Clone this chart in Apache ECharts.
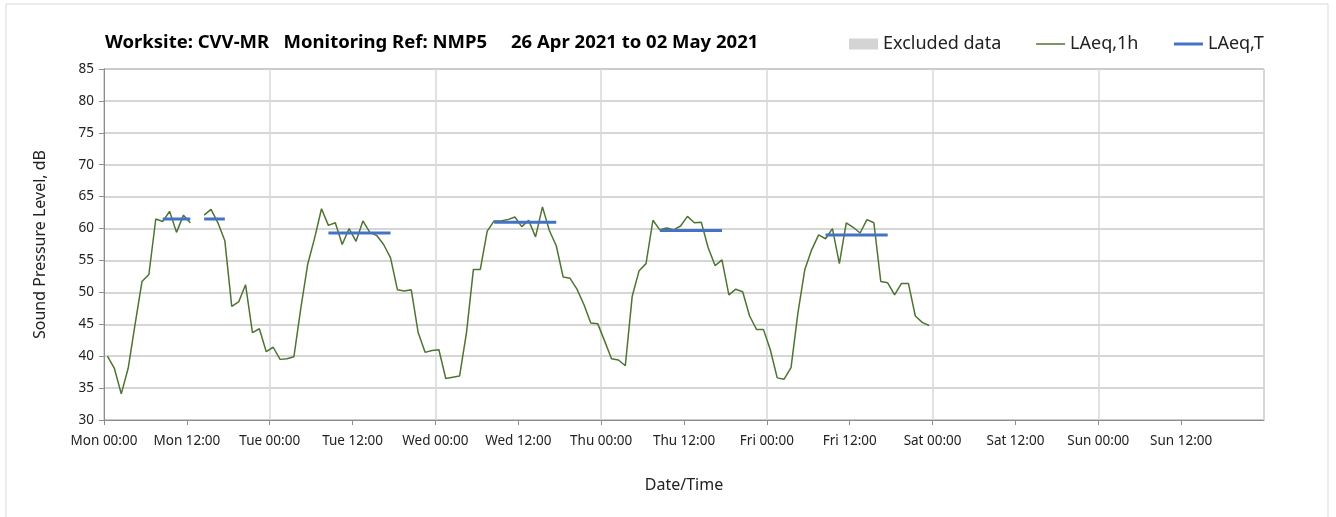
<!DOCTYPE html>
<html>
<head>
<meta charset="utf-8">
<script src="https://cdn.jsdelivr.net/npm/echarts@6/dist/echarts.min.js"></script>
<style>
  html, body { margin: 0; padding: 0; background: #fff; }
  #chart { width: 1336px; height: 517px; }
</style>
</head>
<body>
<div id="chart"></div>
<script>
// hourly LAeq,1h per day (index = hour of day), null = no data
const monday    = [40.0, 38.1, 34.1, 38.1, 45.0, 51.7, 52.8, 61.5, 61.1, 62.7, 59.4, 62.1, 60.9, null, 62.1, 63.0, 60.9, 58.1, 47.8, 48.5, 51.2, 43.7, 44.3, 40.7];
const tuesday   = [41.4, 39.5, 39.6, 39.9, 47.5, 54.4, 58.5, 63.1, 60.5, 60.9, 57.5, 60.0, 58.0, 61.2, 59.4, 58.9, 57.5, 55.4, 50.4, 50.2, 50.4, 43.7, 40.6, 40.9];
const wednesday = [41.0, 36.5, 36.7, 36.9, 43.7, 53.6, 53.6, 59.6, 61.2, 61.2, 61.4, 61.8, 60.3, 61.3, 58.7, 63.4, 59.7, 57.3, 52.4, 52.2, 50.5, 48.1, 45.2, 45.1];
const thursday  = [42.4, 39.6, 39.4, 38.5, 49.4, 53.4, 54.5, 61.3, 59.8, 60.1, 59.8, 60.4, 61.9, 60.9, 61.0, 57.0, 54.2, 55.1, 49.6, 50.5, 50.1, 46.3, 44.2, 44.2];
const friday    = [41.0, 36.6, 36.4, 38.2, 46.8, 53.6, 56.7, 59.0, 58.4, 60.0, 54.5, 60.9, 60.2, 59.3, 61.4, 60.9, 51.7, 51.5, 49.6, 51.4, 51.4, 46.3, 45.3, 44.8];
const days = [monday, tuesday, wednesday, thursday, friday];

// LAeq,T daytime level per day (08:00-18:00)
const laeqT = [61.5, 59.3, 61.0, 59.7, 59.0];
const dayStart = 8;
const dayEnd = 17;

// x tick labels every 12 h
const xTickLabels = [
  "Mon 00:00", "Mon 12:00", "Tue 00:00", "Tue 12:00", "Wed 00:00", "Wed 12:00",
  "Thu 00:00", "Thu 12:00", "Fri 00:00", "Fri 12:00", "Sat 00:00", "Sat 12:00",
  "Sun 00:00", "Sun 12:00",
];

const font = "'Noto Sans', 'Open Sans', sans-serif";

// build [hour, value] pairs, points sit at the middle of each hour
const hourly = [];
days.forEach((vals, d) => {
  vals.forEach((v, h) => {
    hourly.push([d * 24 + h + 0.5, v]);
  });
});

const periodT = [];
days.forEach((vals, d) => {
  for (let h = dayStart; h <= dayEnd; h++) {
    periodT.push([d * 24 + h + 0.5, vals[h] == null ? null : laeqT[d]]);
  }
  periodT.push([d * 24 + dayEnd + 1, null]);
});

const chart = echarts.init(document.getElementById("chart"));

const option = {
  animation: false,
  backgroundColor: "#fff",
  textStyle: { fontFamily: font },
  graphic: [
    {
      type: "rect",
      shape: { x: 6, y: 4, width: 1322, height: 520 },
      style: { fill: "none", stroke: "#d9d9d9", lineWidth: 1 },
      silent: true,
    },
  ],
  title: {
    text: "Worksite: CVV-MR   Monitoring Ref: NMP5     26 Apr 2021 to 02 May 2021",
    left: 100,
    top: 28,
    textStyle: { fontFamily: font, fontSize: 18.5, fontWeight: "bold", color: "#000" },
  },
  legend: {
    left: 844,
    top: 30,
    itemGap: 34,
    itemWidth: 29,
    itemHeight: 11,
    textStyle: { fontFamily: font, fontSize: 18, color: "#222" },
    data: [
      { name: "Excluded data", icon: "rect" },
      { name: "LAeq,1h", itemStyle: { opacity: 0 }, lineStyle: { width: 1.5 } },
      { name: "LAeq,T", itemStyle: { opacity: 0 }, lineStyle: { width: 3 } },
    ],
  },
  grid: {
    left: 104,
    right: 72,
    top: 69,
    bottom: 97,
    show: true,
    borderColor: "#a6a6a6",
    borderWidth: 1,
  },
  xAxis: [
    {
      type: "value",
      min: 0,
      max: 168,
      interval: 12,
      name: "Date/Time",
      nameLocation: "middle",
      nameGap: 57,
      nameTextStyle: { fontFamily: font, fontSize: 16, color: "#222" },
      axisLine: { show: true, lineStyle: { color: "#8c8c8c" } },
      axisTick: { show: true, inside: false, length: 5, lineStyle: { color: "#8c8c8c" } },
      axisLabel: {
        fontFamily: font,
        fontSize: 13.5,
        color: "#222",
        margin: 14,
        showMaxLabel: false,
        formatter: (v) => xTickLabels[v / 12] || "",
      },
      splitLine: { show: false },
    },
    {
      type: "value",
      min: 0,
      max: 168,
      interval: 24,
      position: "bottom",
      axisLine: { show: false },
      axisTick: { show: false },
      axisLabel: { show: false },
      splitLine: { show: true, lineStyle: { color: "#d9d9d9", width: 1.5 } },
    },
  ],
  yAxis: {
    type: "value",
    min: 30,
    max: 85,
    interval: 5,
    name: "Sound Pressure Level, dB",
    nameLocation: "middle",
    nameGap: 56,
    nameTextStyle: { fontFamily: font, fontSize: 16, color: "#222" },
    axisLine: { show: true, lineStyle: { color: "#8c8c8c" } },
    axisTick: { show: true, length: 5, lineStyle: { color: "#8c8c8c" } },
    axisLabel: { fontFamily: font, fontSize: 13.5, color: "#222", margin: 10 },
    splitLine: { show: true, lineStyle: { color: "#c8c8c8", width: 1.5 } },
  },
  series: [
    {
      name: "Excluded data",
      type: "bar",
      data: [],
      itemStyle: { color: "#d4d4d4" },
    },
    {
      name: "LAeq,1h",
      type: "line",
      data: hourly,
      symbol: "none",
      connectNulls: false,
      lineStyle: { color: "#4e7431", width: 1.5 },
      itemStyle: { color: "#4e7431" },
    },
    {
      name: "LAeq,T",
      type: "line",
      data: periodT,
      symbol: "none",
      connectNulls: false,
      lineStyle: { color: "#4472c4", width: 3 },
      itemStyle: { color: "#4472c4" },
      z: 3,
    },
  ],
};

chart.setOption(option);
</script>
</body>
</html>
